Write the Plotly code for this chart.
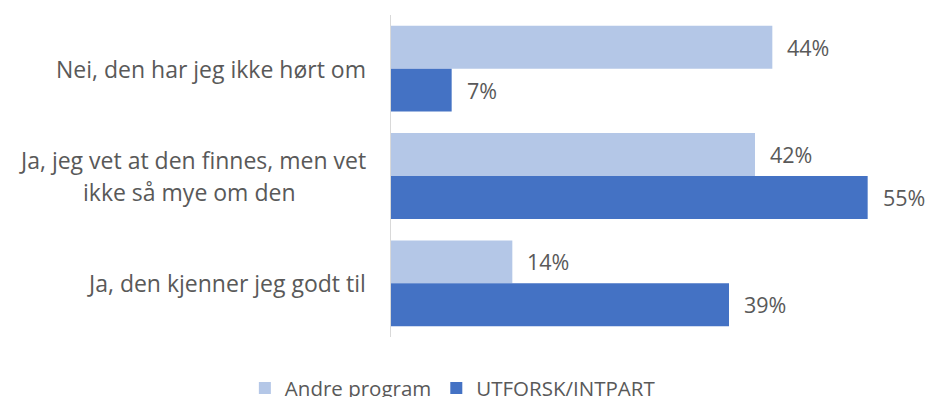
import plotly.graph_objects as go

# Survey answers and shares per group
categories = [
    "Nei, den har jeg ikke hørt om",
    "Ja, jeg vet at den finnes, men vet ikke så mye om den",
    "Ja, den kjenner jeg godt til",
]
category_lines = [
    ["Nei, den har jeg ikke hørt om"],
    ["Ja, jeg vet at den finnes, men vet", "ikke så mye om den"],
    ["Ja, den kjenner jeg godt til"],
]
andre_program = [0.44, 0.42, 0.14]
utforsk_intpart = [0.07, 0.55, 0.39]

series = [
    ("Andre program", andre_program, "#B4C7E7"),
    ("UTFORSK/INTPART", utforsk_intpart, "#4472C4"),
]

FONT = "'Open Sans', sans-serif"
TEXT_COLOR = "#595959"

fig = go.Figure()
for name, values, color in series:
    fig.add_trace(go.Bar(
        y=categories, x=values, name=name, orientation="h",
        marker=dict(color=color, line=dict(width=0)),
        hoverinfo="skip",
    ))

annotations = []
# Value labels just past the end of each bar
for i, (name, values, color) in enumerate(series):
    for cat, v in zip(categories, values):
        annotations.append(dict(
            x=v, y=cat, xref="x", yref="y", text=f"{round(v * 100)}%",
            showarrow=False, xanchor="left", xshift=13,
            yshift=(21.5 if i == 0 else -21.5),
            font=dict(family=FONT, size=21.5, color=TEXT_COLOR),
        ))

# Category labels left of the axis; wrapped lines are centred on each other
line_step = 32
for cat, lines in zip(categories, category_lines):
    k = len(lines)
    for j, line in enumerate(lines):
        first = (k == 1 or j == 0)
        annotations.append(dict(
            x=0, y=cat, xref="paper", yref="y", text=line,
            showarrow=False, xanchor="right" if first else "center",
            xshift=-23 if first else -202,
            yshift=((k - 1) / 2 - j) * line_step,
            font=dict(family=FONT, size=23, color=TEXT_COLOR),
        ))

fig.update_layout(
    width=928, height=397,
    margin=dict(l=391, r=17, t=15, b=60, autoexpand=False),
    paper_bgcolor="white", plot_bgcolor="white",
    barmode="group", bargap=0.2, bargroupgap=0,
    font=dict(family=FONT, size=20.5, color=TEXT_COLOR),
    xaxis=dict(range=[0, 0.6], showgrid=False, zeroline=False,
               showticklabels=False, showline=False),
    yaxis=dict(autorange="reversed", showticklabels=False, showgrid=False,
               zeroline=False, showline=True, linecolor="#D9D9D9", linewidth=1,
               ticks=""),
    showlegend=True,
    legend=dict(orientation="h", xref="container", yref="container",
                x=0.488, xanchor="center", y=0.022, yanchor="middle",
                font=dict(family=FONT, size=20.5, color=TEXT_COLOR),
                traceorder="normal", itemwidth=30),
    annotations=annotations,
)

fig.write_html("out.html")
